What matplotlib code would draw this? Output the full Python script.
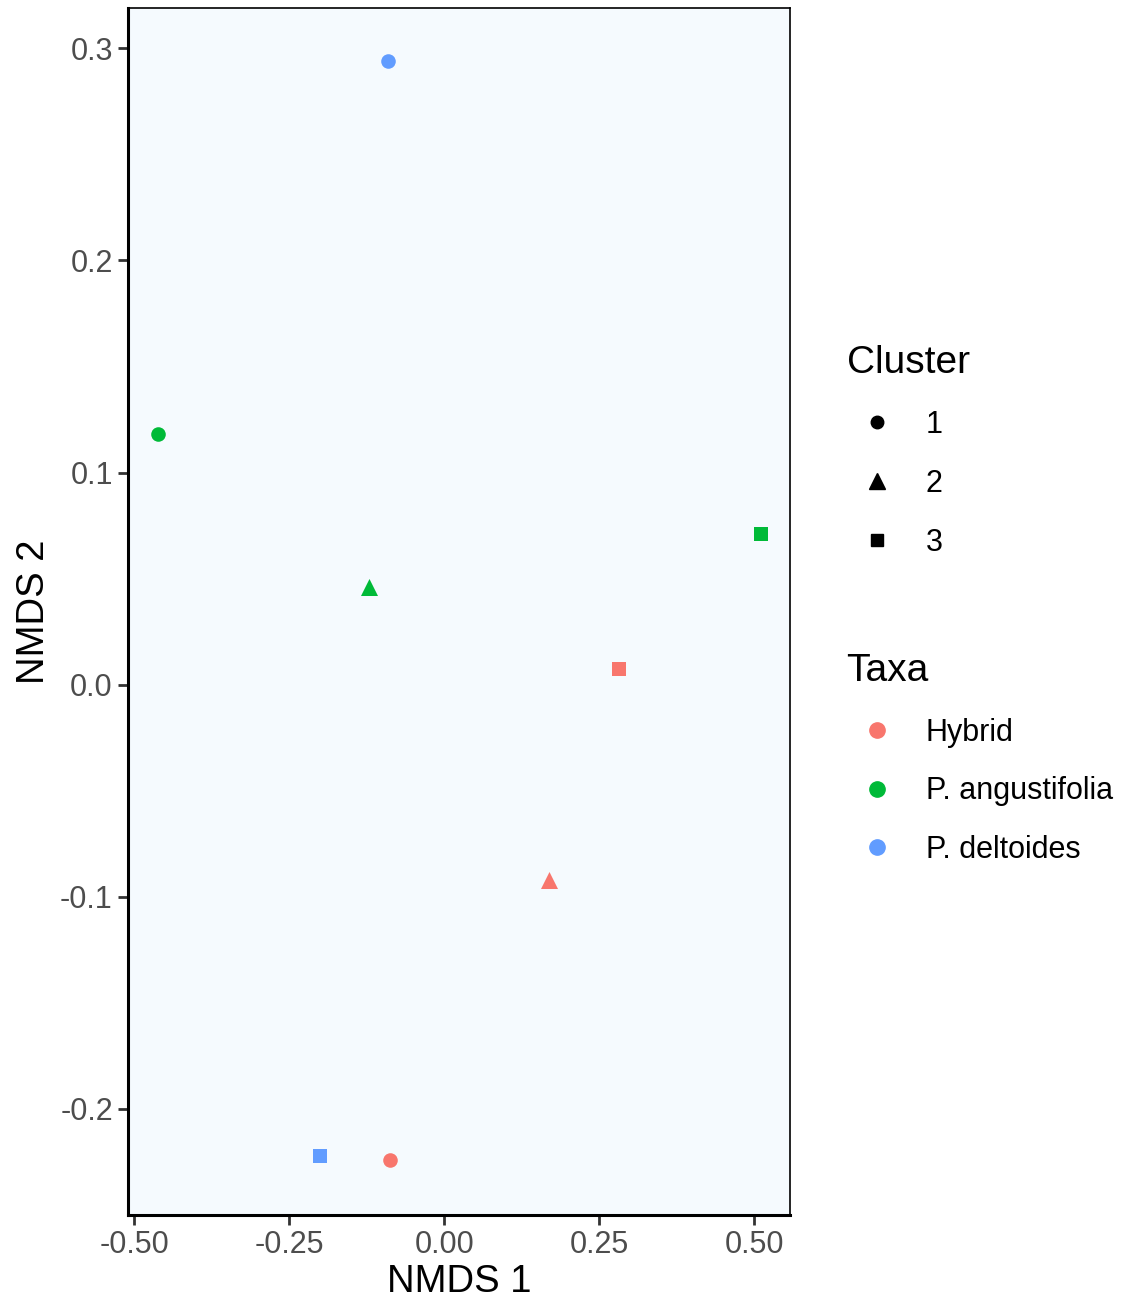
import matplotlib
matplotlib.use("Agg")
import matplotlib.pyplot as plt
from matplotlib.lines import Line2D

plt.rcParams['font.family'] = ['Liberation Sans', 'DejaVu Sans']

# NMDS scores per sample
nmds1 = [-0.090, -0.461, -0.121, 0.511, 0.282, 0.169, -0.200, -0.087]
nmds2 = [0.294, 0.118, 0.046, 0.071, 0.0075, -0.092, -0.222, -0.224]
taxa = ['P. deltoides', 'P. angustifolia', 'P. angustifolia', 'P. angustifolia',
        'Hybrid', 'Hybrid', 'P. deltoides', 'Hybrid']
cluster = ['1', '1', '2', '3', '3', '2', '3', '1']

taxa_levels = ['Hybrid', 'P. angustifolia', 'P. deltoides']
cluster_levels = ['1', '2', '3']
taxa_colors = {'Hybrid': '#F8766D', 'P. angustifolia': '#00BA38', 'P. deltoides': '#619CFF'}
cluster_markers = {'1': 'o', '2': '^', '3': 's'}
marker_sizes = {'1': 110, '2': 150, '3': 105}
legend_sizes = {'1': 9, '2': 11, '3': 9}

fig = plt.figure(figsize=(11.3, 13.02), dpi=100)
ax = fig.add_axes([0.1133, 0.0668, 0.5858, 0.9271])
ax.set_facecolor('#F5FAFE')

for x, y, t, c in zip(nmds1, nmds2, taxa, cluster):
    ax.scatter(x, y, color=taxa_colors[t], marker=cluster_markers[c],
               s=marker_sizes[c], linewidths=0, zorder=3)

ax.set_xlim(-0.51, 0.558)
ax.set_ylim(-0.250, 0.319)
ax.set_xticks([-0.50, -0.25, 0.00, 0.25, 0.50])
ax.set_xticklabels(['-0.50', '-0.25', '0.00', '0.25', '0.50'])
ax.set_yticks([-0.2, -0.1, 0.0, 0.1, 0.2, 0.3])
ax.set_yticklabels(['-0.2', '-0.1', '0.0', '0.1', '0.2', '0.3'])
ax.tick_params(axis='both', length=7, width=2, color='#333333',
               labelsize=22, labelcolor='#4D4D4D', pad=4)

for side in ['left', 'bottom']:
    ax.spines[side].set_linewidth(2.2)
for side in ['top', 'right']:
    ax.spines[side].set_linewidth(1.2)

ax.set_xlabel('NMDS 1', fontsize=27.5, labelpad=3)
ax.set_ylabel('NMDS 2', fontsize=27.5, labelpad=6)

# legends for shape (cluster) and colour (taxa)
cl_handles = [Line2D([], [], linestyle='none', marker=cluster_markers[c], color='black',
                     markersize=legend_sizes[c]) for c in cluster_levels]
tx_handles = [Line2D([], [], linestyle='none', marker='o', color=taxa_colors[t],
                     markersize=11) for t in taxa_levels]

leg_kw = dict(loc='upper left', frameon=False, fontsize=22, title_fontsize=28,
              labelspacing=0.94, handletextpad=0.6, alignment='left')
fig.legend(cl_handles, cluster_levels, title='Cluster',
           bbox_to_anchor=(0.7248, 0.7558), **leg_kw)
fig.legend(tx_handles, taxa_levels, title='Taxa',
           bbox_to_anchor=(0.7248, 0.5196), **leg_kw)

fig.savefig('out.png', dpi=100)
